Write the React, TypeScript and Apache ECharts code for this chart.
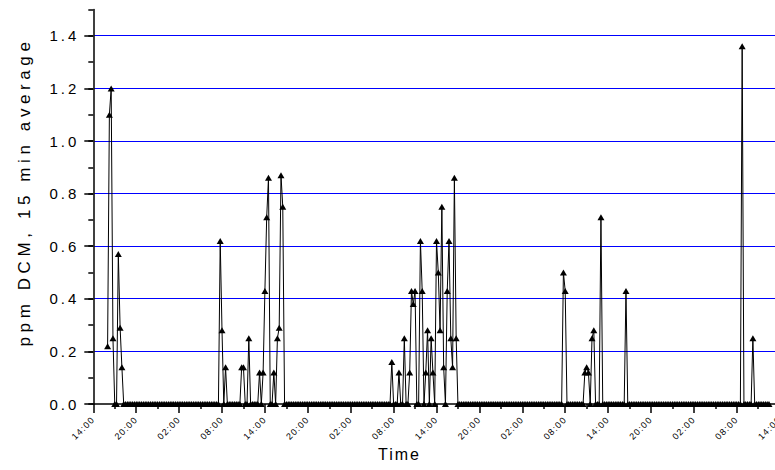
import React, { useEffect, useRef } from "react";
import * as echarts from "echarts";

// x axis: hours since the first 14:00 tick, one label every 6 hours
const xTickLabels = [
  "14:00", "20:00", "02:00", "08:00", "14:00", "20:00", "02:00", "08:00",
  "14:00", "20:00", "02:00", "08:00", "14:00", "20:00", "02:00", "08:00", "14:00",
];
const yTickValues = [0, 0.2, 0.4, 0.6, 0.8, 1.0, 1.2, 1.4];
const gridValues = [0.2, 0.4, 0.6, 0.8, 1.0, 1.2, 1.4];

// 15-minute averages: first and last reading (hours after the first 14:00)
const firstReadingHour = 2;
const lastReadingHour = 94.5;
const stepHours = 0.25;

// readings above zero (hours after the first 14:00, ppm); all other readings are 0
const readingHours = [
  2, 2.25, 2.5, 2.75, 3.5, 3.75, 4,
  17.75, 18, 18.5, 20.75, 21, 21.75, 23.25, 23.75, 24, 24.25, 24.5, 25.25, 25.75, 26, 26.25, 26.5,
  41.75, 42.75, 43.5, 44.25, 44.5, 44.75, 45, 45.75, 46, 46.5, 46.75, 47.25, 47.5, 48, 48.25, 48.5,
  48.75, 49, 49.5, 49.75, 50, 50.25, 50.5, 50.75,
  65.75, 66, 68.75, 69, 69.25, 69.75, 70, 71, 74.5,
  90.75, 92.25,
];
const readingValues = [
  0.22, 1.1, 1.2, 0.25, 0.57, 0.29, 0.14,
  0.62, 0.28, 0.14, 0.14, 0.14, 0.25, 0.12, 0.12, 0.43, 0.71, 0.86, 0.12, 0.25, 0.29, 0.87, 0.75,
  0.16, 0.12, 0.25, 0.12, 0.43, 0.38, 0.43, 0.62, 0.43, 0.12, 0.28, 0.25, 0.12, 0.62, 0.5, 0.28,
  0.75, 0.14, 0.43, 0.62, 0.25, 0.14, 0.86, 0.25,
  0.5, 0.43, 0.12, 0.14, 0.12, 0.25, 0.28, 0.71, 0.43,
  1.36, 0.25,
];

const yName = "ppm DCM, 15 min average";
const xName = "Time";
const FONT = "Liberation Sans, Arial, sans-serif";

const GRID_LEFT = 93.3;
const GRID_WIDTH = 686.4;

export default function App() {
  const ref = useRef<HTMLDivElement>(null);

  useEffect(() => {
    if (!ref.current) return;
    const chart = echarts.init(ref.current, null, { renderer: "svg" });

    const lookup = new Map<number, number>();
    readingHours.forEach((h, i) => lookup.set(Math.round(h / stepHours), readingValues[i]));
    const data: [number, number][] = [];
    const n0 = Math.round(firstReadingHour / stepHours);
    const n1 = Math.round(lastReadingHour / stepHours);
    for (let s = n0; s <= n1; s++) {
      data.push([s * stepHours, lookup.has(s) ? (lookup.get(s) as number) : 0]);
    }

    const option: any = {
      animation: false,
      backgroundColor: "#ffffff",
      grid: {
        left: GRID_LEFT,
        top: 9.5,
        width: GRID_WIDTH,
        height: 394.5,
        containLabel: false,
        outerBoundsMode: "none",
      },
      xAxis: {
        type: "value",
        min: 0,
        max: 96,
        interval: 6,
        axisLine: { show: true, onZero: false, lineStyle: { color: "#000", width: 1.5 } },
        axisTick: { show: true, length: 9, lineStyle: { color: "#000", width: 1.5 } },
        minorTick: { show: true, splitNumber: 2, length: 5, lineStyle: { color: "#000", width: 1.5 } },
        splitLine: { show: false },
        minorSplitLine: { show: false },
        axisLabel: {
          rotate: 45,
          fontSize: 9,
          fontFamily: FONT,
          color: "#000",
          margin: 14,
          hideOverlap: false,
          formatter: (v: number) => xTickLabels[Math.round(v / 6)] ?? "",
        },
      },
      yAxis: [
        {
          type: "value",
          min: 0,
          max: 1.5,
          interval: 0.2,
          axisLine: { show: true, onZero: false, lineStyle: { color: "#000", width: 1.5 } },
          axisTick: { show: true, length: 9, customValues: yTickValues, lineStyle: { color: "#000", width: 1.5 } },
          axisLabel: {
            customValues: yTickValues,
            fontSize: 15,
            fontFamily: FONT,
            color: "#000",
            margin: 14,
            formatter: (v: number) => (v > 1.45 ? "" : v.toFixed(1)),
          },
          splitLine: { show: false },
        },
        {
          type: "value",
          min: 0,
          max: 1.5,
          interval: 0.1,
          position: "left",
          axisLine: { show: false },
          axisTick: { show: true, length: 5, lineStyle: { color: "#000", width: 1.5 } },
          axisLabel: { show: false },
          splitLine: { show: false },
        },
      ],
      series: [
        {
          type: "line",
          data,
          yAxisIndex: 0,
          clip: false,
          symbol: "triangle",
          symbolSize: [7, 6],
          itemStyle: { color: "#000" },
          lineStyle: { color: "#000", width: 1 },
          z: 3,
        },
      ],
      graphic: {
        elements: [
          {
            id: "yname",
            type: "text",
            x: 24.5,
            y: 192,
            rotation: Math.PI / 2,
            style: {
              text: yName,
              fontSize: 17,
              fontFamily: FONT,
              fill: "#000",
              align: "center",
              verticalAlign: "middle",
            },
          },
          {
            id: "xname",
            type: "text",
            left: 378,
            top: 446,
            style: { text: xName, fontSize: 16, fontFamily: FONT, fill: "#000" },
          },
        ],
      },
    };

    chart.setOption(option);

    // horizontal blue grid lines, placed through the y axis scale and snapped to whole pixels
    const gridLines = gridValues.map((v, i) => {
      const py = chart.convertToPixel({ yAxisIndex: 0 }, v) as number;
      const y = Math.round(py - 0.5) + 0.5;
      return {
        id: "grid" + i,
        type: "line",
        z: 0,
        silent: true,
        shape: { x1: GRID_LEFT + 1, y1: y, x2: GRID_LEFT + GRID_WIDTH, y2: y },
        style: { stroke: "#0000ff", lineWidth: 1 },
      };
    });
    chart.setOption({ graphic: { elements: gridLines } });

    const svg = ref.current.querySelector("svg");
    if (svg) {
      svg.querySelectorAll("text").forEach((t) => {
        const s = t.textContent || "";
        if (s === yName) (t as any).style.letterSpacing = "4.6px";
        else if (s === xName) (t as any).style.letterSpacing = "2px";
        else if (/^\d\.\d$/.test(s)) (t as any).style.letterSpacing = "3px";
        else if (/^\d\d:\d\d$/.test(s)) (t as any).style.letterSpacing = "1.2px";
      });
    }

    return () => chart.dispose();
  }, []);

  return (
    <div
      ref={ref}
      style={{ position: "absolute", left: 0, top: 0, width: 775, height: 470, background: "#fff" }}
    />
  );
}
